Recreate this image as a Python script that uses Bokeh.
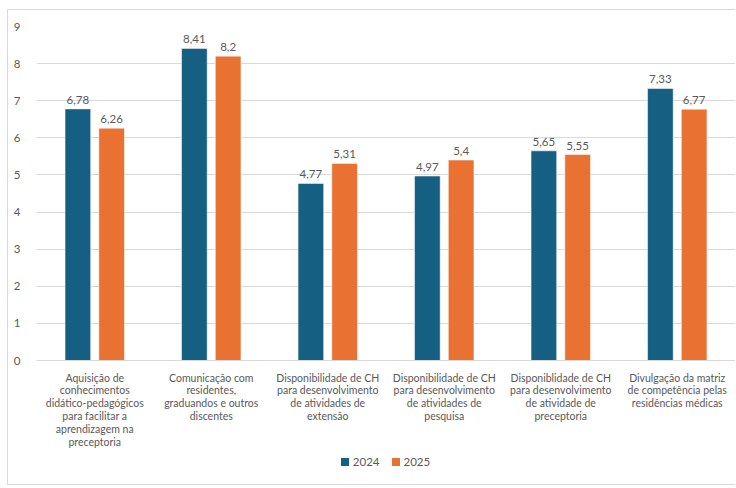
from bokeh.plotting import figure
from bokeh.models import ColumnDataSource, FactorRange, SingleIntervalTicker, Range1d, Div
from bokeh.layouts import column
from bokeh.transform import dodge
from bokeh.embed import file_html
from bokeh.resources import INLINE
from bokeh.core.properties import value

categories = [
    "Aquisição de\nconhecimentos\ndidático-pedagógicos\npara facilitar a\naprendizagem na\npreceptoria",
    "Comunicação com\nresidentes,\ngraduandos e outros\ndiscentes",
    "Disponibilidade de CH\npara desenvolvimento\nde atividades de\nextensão",
    "Disponibilidade de CH\npara desenvolvimento\nde atividades de\npesquisa",
    "Disponiblidade de CH\npara desenvolvimento\nde atividade de\npreceptoria",
    "Divulgação da matriz\nde competência pelas\nresidências médicas",
]
v2024 = [6.78, 8.41, 4.77, 4.97, 5.65, 7.33]
v2025 = [6.26, 8.2, 5.31, 5.4, 5.55, 6.77]
series = ["2024", "2025"]
colors = ["#156082", "#E97132"]

def fmt(v):
    return f"{v:g}".replace(".", ",")

src = ColumnDataSource(dict(
    x=categories, a=v2024, b=v2025,
    la=[fmt(v) for v in v2024], lb=[fmt(v) for v in v2025],
))

FONT = "Lato"
GRAY = "#595959"

p = figure(x_range=FactorRange(factors=categories), y_range=Range1d(0, 9), width=727, height=440,
           output_backend="svg", toolbar_location=None,
           min_border_top=16, min_border_right=0, min_border_left=28, min_border_bottom=0)
p.outline_line_color = None

r1 = p.vbar(x=dodge("x", -0.145, range=p.x_range), top="a", width=0.22, source=src,
            fill_color=colors[0], line_color="white", line_width=0.5)
r2 = p.vbar(x=dodge("x", 0.145, range=p.x_range), top="b", width=0.22, source=src,
            fill_color=colors[1], line_color="white", line_width=0.5)

for col, off in (("a", -0.145), ("b", 0.145)):
    p.text(x=dodge("x", off, range=p.x_range), y=col, text="l" + col, source=src,
           text_align="center", text_baseline="bottom", y_offset=-5,
           text_font=value(FONT), text_font_size="11.5px", text_color=GRAY)

p.xgrid.grid_line_color = None
p.ygrid.grid_line_color = "#d9d9d9"
p.yaxis.ticker = SingleIntervalTicker(interval=1)
p.yaxis.axis_line_color = None
p.yaxis.major_tick_line_color = None
p.yaxis.minor_tick_line_color = None
p.yaxis.major_label_text_color = GRAY
p.yaxis.major_label_text_font = FONT
p.yaxis.major_label_text_font_size = "11.5px"
p.yaxis.major_label_standoff = 10

p.xaxis.axis_line_color = "#d9d9d9"
p.xaxis.major_tick_line_color = None
p.xaxis.minor_tick_line_color = None
p.xaxis.major_label_text_color = GRAY
p.xaxis.major_label_text_font = FONT
p.xaxis.major_label_text_font_size = "10.5px"
p.xaxis.major_label_text_line_height = 1.07
p.xaxis.major_label_standoff = 5

items = "".join(
    f'<span style="display:inline-flex;align-items:center;margin:0 6px">'
    f'<span style="display:inline-block;width:8px;height:8px;background:{c};margin-right:4px"></span>{s}</span>'
    for s, c in zip(series, colors)
)
legend_div = Div(
    text=f'<div style="width:699px;margin-left:28px;text-align:center;font-family:Lato;'
         f'font-size:11.5px;color:{GRAY};line-height:14px">{items}</div>',
    width=727, height=30, margin=(4, 0, 0, 0),
)

layout = column(p, legend_div, margin=(9, 0, 0, 7),
                styles={"border": "1px solid #d9d9d9", "border-right": "none"})

open("out.html", "w").write(file_html(layout, INLINE))
